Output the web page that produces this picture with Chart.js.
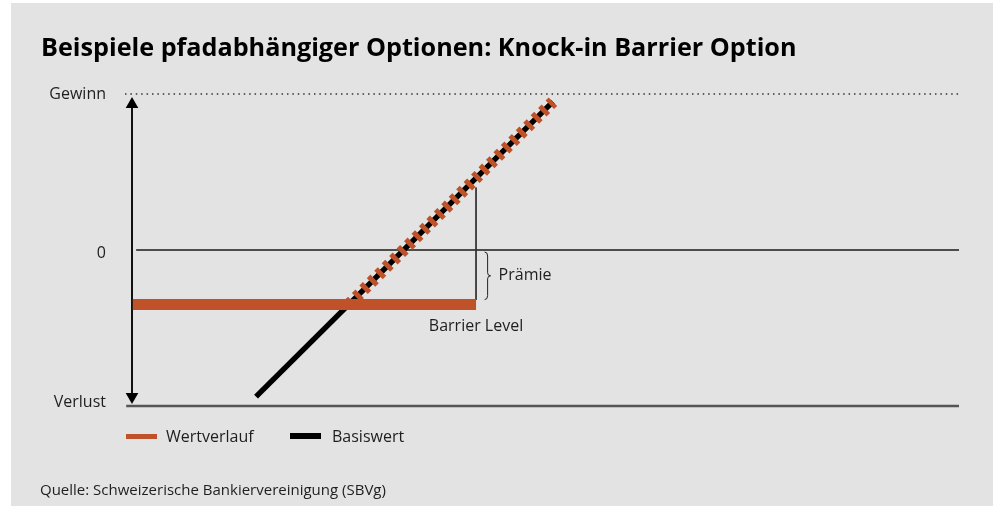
<!DOCTYPE html>
<html>
<head>
<meta charset="utf-8">
<title>Knock-in Barrier Option</title>
<script src="https://cdn.jsdelivr.net/npm/chart.js@4.4.1/dist/chart.umd.min.js"></script>
<style>
  html, body { margin: 0; padding: 0; background: #fff; }
  #frame { position: absolute; left: 11px; top: 3px; width: 982px; height: 503px; background: #e3e3e3; }
  #box { position: absolute; left: 0; top: 0; width: 993px; height: 506px; }
  .txt { position: absolute; font-family: 'Open Sans', sans-serif; font-size: 16px; color: #1e1e1e; white-space: nowrap; line-height: 20px; }
  #title { left: 41px; top: 32px; font-size: 25.2px; font-weight: 700; color: #000; line-height: 28px; }
  #source { left: 40px; top: 479px; font-size: 15px; }
  .swatch { position: absolute; width: 31px; }
</style>
</head>
<body>
<div id="frame"></div>
<div id="box"><canvas id="chart"></canvas></div>
<div class="txt" id="title">Beispiele pfadabhängiger Optionen: Knock-in Barrier Option</div>
<div class="swatch" style="left:126px; top:434px; height:5px; background:#bf5229;"></div>
<div class="txt" style="left:166px; top:426px;">Wertverlauf</div>
<div class="swatch" style="left:290px; top:433px; height:6px; background:#000;"></div>
<div class="txt" style="left:332px; top:426px;">Basiswert</div>
<div class="txt" id="source">Quelle: Schweizerische Bankiervereinigung (SBVg)</div>
<script>
// axis labels
const yTicks = [-100, 0, 100];
const yTickLabels = ['Verlust', '0', 'Gewinn'];
const yTickNudge = [-4, 3, 0];

// underlying (Basiswert): straight line
const basisX = [15.0, 50.9];
const basisY = [-94.0, 95.1];

// knock-in option value (Wertverlauf)
const barrierLevel = -35;
const barrierEnd = 41.6;
const knockX = [26.2, 50.9];
const knockY = [-35, 95.1];

// reference lines
const gewinnX = [-0.85, 100];
const zeroX = [0.5, 100];
const verlustX = [-0.7, 100];

// premium marker
const premiumX = 41.6;
const premiumTop = 40;
const braceX = 43.0;

const orange = '#bf5229';

function pts(xs, ys) {
  return xs.map((v, i) => ({ x: v, y: ys[i] }));
}

// shift the y labels a little, like in the original artwork
const labelNudge = {
  id: 'labelNudge',
  beforeDraw(chart) {
    const scale = chart.scales.y;
    const items = scale.getLabelItems(chart.chartArea);
    items.forEach((it, i) => {
      const k = yTicks.indexOf(scale.ticks[i].value);
      if (k >= 0 && !it._nudged) {
        it.options.translation[1] += yTickNudge[k];
        it._nudged = true;
      }
    });
  }
};

const annotations = {
  id: 'annotations',
  afterDatasetsDraw(chart) {
    const { ctx, scales: { x, y } } = chart;
    const bx = x.getPixelForValue(braceX);
    const y0 = y.getPixelForValue(0) + 2;
    const y1 = y.getPixelForValue(barrierLevel) - 5;
    const ym = (y0 + y1) / 2;
    const w = 3;
    ctx.save();
    ctx.strokeStyle = '#222';
    ctx.lineWidth = 1;
    ctx.beginPath();
    ctx.moveTo(bx - w, y0);
    ctx.quadraticCurveTo(bx, y0, bx, y0 + 4);
    ctx.lineTo(bx, ym - 3);
    ctx.quadraticCurveTo(bx, ym, bx + w, ym);
    ctx.quadraticCurveTo(bx, ym, bx, ym + 3);
    ctx.lineTo(bx, y1 - 4);
    ctx.quadraticCurveTo(bx, y1, bx - w, y1);
    ctx.stroke();

    ctx.fillStyle = '#1e1e1e';
    ctx.font = '16px "Open Sans"';
    ctx.textBaseline = 'middle';
    ctx.textAlign = 'left';
    ctx.fillText('Prämie', bx + 11, ym);
    ctx.textAlign = 'center';
    ctx.fillText('Barrier Level', x.getPixelForValue(barrierEnd), y.getPixelForValue(barrierLevel) + 22);
    ctx.restore();
  }
};

const lineBase = { showLine: true, pointRadius: 0, fill: false, tension: 0, clip: false };

new Chart(document.getElementById('chart'), {
  type: 'scatter',
  data: {
    datasets: [
      Object.assign({}, lineBase, {
        label: 'Wertverlauf knock-in',
        data: pts(knockX, knockY),
        borderColor: orange,
        borderWidth: 12,
        borderDash: [5, 5.5],
        borderCapStyle: 'butt',
        order: 0
      }),
      Object.assign({}, lineBase, {
        label: 'Wertverlauf',
        data: pts([0.1, barrierEnd], [barrierLevel, barrierLevel]),
        borderColor: orange,
        borderWidth: 11,
        borderCapStyle: 'butt',
        order: 1
      }),
      Object.assign({}, lineBase, {
        label: 'Basiswert',
        data: pts(basisX, basisY),
        borderColor: '#000',
        borderWidth: 5.5,
        borderCapStyle: 'butt',
        order: 2
      }),
      Object.assign({}, lineBase, {
        label: 'Prämie',
        data: pts([premiumX, premiumX], [premiumTop, barrierLevel + 3]),
        borderColor: '#333',
        borderWidth: 1,
        order: 3
      }),
      Object.assign({}, lineBase, {
        label: 'Achse',
        data: pts([0, 0], [93.4, -94.0]),
        borderColor: '#111',
        borderWidth: 2,
        pointRadius: 7.3,
        pointStyle: 'triangle',
        rotation: [0, 180],
        pointBackgroundColor: '#000',
        pointBorderWidth: 0,
        order: 4
      }),
      Object.assign({}, lineBase, {
        label: 'Gewinn',
        data: pts(gewinnX, [100, 100]),
        borderColor: '#333',
        borderWidth: 1.5,
        borderDash: [1.5, 3.9],
        order: 5
      }),
      Object.assign({}, lineBase, {
        label: 'Null',
        data: pts(zeroX, [0, 0]),
        borderColor: '#1a1a1a',
        borderWidth: 1.5,
        order: 6
      }),
      Object.assign({}, lineBase, {
        label: 'Verlust',
        data: pts(verlustX, [-100, -100]),
        borderColor: '#555',
        borderWidth: 2.5,
        order: 7
      })
    ]
  },
  options: {
    responsive: true,
    maintainAspectRatio: false,
    animation: false,
    events: [],
    layout: { padding: { left: 0, right: 34, top: 94, bottom: 100 } },
    plugins: { legend: { display: false }, tooltip: { enabled: false }, title: { display: false } },
    scales: {
      x: { type: 'linear', display: false, min: 0, max: 100 },
      y: {
        type: 'linear',
        min: -100,
        max: 100,
        afterBuildTicks: (scale) => { scale.ticks = yTicks.map(v => ({ value: v })); },
        afterFit: (scale) => { scale.width = 132; },
        grid: { display: false, drawTicks: false },
        border: { display: false },
        ticks: {
          padding: 26,
          color: '#1e1e1e',
          font: { family: 'Open Sans', size: 16 },
          callback: (v) => yTickLabels[yTicks.indexOf(v)]
        }
      }
    }
  },
  plugins: [labelNudge, annotations]
});
</script>
</body>
</html>
